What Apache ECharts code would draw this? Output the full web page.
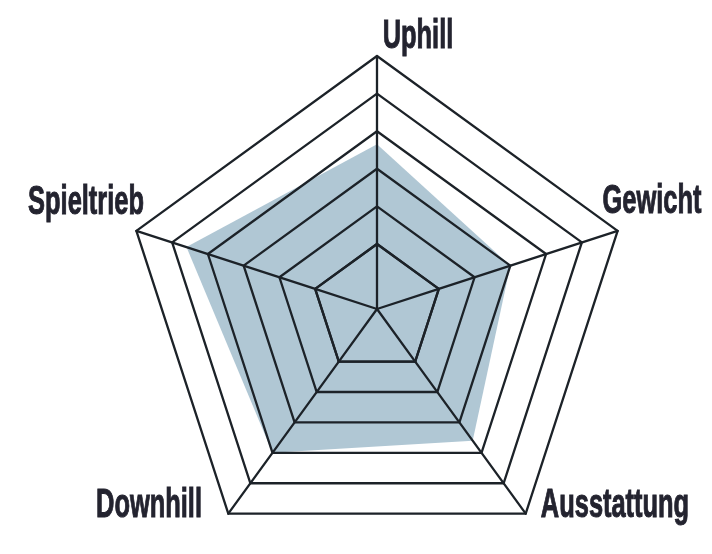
<!DOCTYPE html>
<html>
<head>
<meta charset="utf-8">
<script src="https://cdn.jsdelivr.net/npm/echarts@6/dist/echarts.min.js"></script>
<style>
html,body{margin:0;padding:0;background:#fff;}
#chart{width:712px;height:554px;}
</style>
</head>
<body>
<div id="chart"></div>
<script>
// Indicators in ECharts order (counter-clockwise from top)
const categories = ['Uphill', 'Spieltrieb', 'Downhill', 'Ausstattung', 'Gewicht'];
const values = [3.65, 4.6, 4.0, 3.6, 3.0];
const scaleMin = 1;
const scaleMax = 6;

const chart = echarts.init(document.getElementById('chart'));
const lineColor = '#1c2228';
const labelFont = 'bold 41px "Liberation Sans", Arial, sans-serif';
const labelPos = {
  'Uphill': [418, 37],
  'Gewicht': [652, 202],
  'Spieltrieb': [86, 203],
  'Downhill': [149, 506],
  'Ausstattung': [615, 506]
};

chart.setOption({
  animation: false,
  backgroundColor: '#ffffff',
  radar: [
    {
      center: [377, 309],
      radius: [65, 253],
      startAngle: 90,
      splitNumber: 5,
      shape: 'polygon',
      z: 10,
      indicator: categories.map(n => ({ name: n, min: scaleMin, max: scaleMax })),
      axisName: { show: false },
      axisLine: { show: true, lineStyle: { color: lineColor, width: 2.3 } },
      splitLine: { show: true, lineStyle: { color: lineColor, width: 2.3 } },
      splitArea: { show: false },
      axisTick: { show: false },
      axisLabel: { show: false }
    },
    {
      center: [377, 309],
      radius: 65,
      startAngle: 90,
      splitNumber: 1,
      shape: 'polygon',
      z: 10,
      indicator: categories.map(n => ({ name: n, min: 0, max: 1 })),
      axisName: { show: false },
      axisLine: { show: true, lineStyle: { color: lineColor, width: 2.3 } },
      splitLine: { show: true, lineStyle: { color: lineColor, width: 2.3 } },
      splitArea: { show: false }
    }
  ],
  series: [{
    type: 'radar',
    radarIndex: 0,
    z: 2,
    symbol: 'none',
    lineStyle: { width: 0 },
    areaStyle: { color: '#b0c7d4', opacity: 1 },
    data: [{ value: values, name: 'Bewertung' }]
  }],
  graphic: categories.map(n => ({
    type: 'text',
    x: labelPos[n][0],
    y: labelPos[n][1],
    scaleX: 0.62,
    z: 20,
    style: {
      text: n,
      x: 0,
      y: 0,
      font: labelFont,
      fill: '#23232f',
      stroke: '#23232f',
      lineWidth: 1,
      textAlign: 'center',
      textVerticalAlign: 'middle'
    }
  }))
});
</script>
</body>
</html>
